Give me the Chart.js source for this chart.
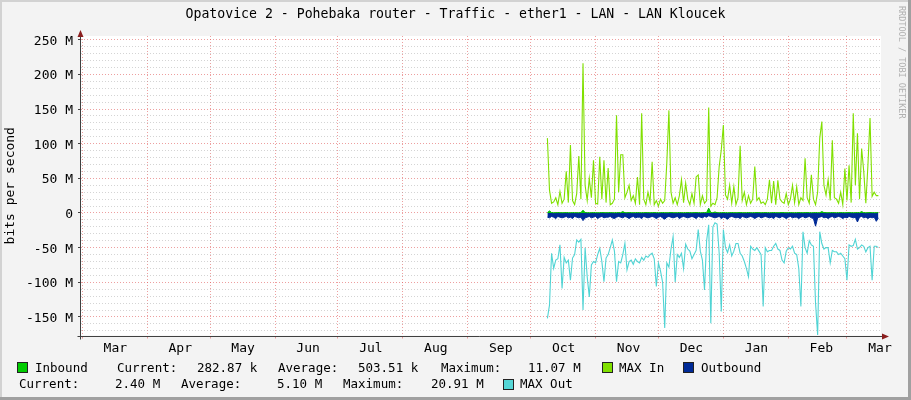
<!DOCTYPE html>
<html>
<head>
<meta charset="utf-8">
<script src="https://cdn.jsdelivr.net/npm/chart.js@4.4.1/dist/chart.umd.min.js"></script>
<style>
  html, body { margin: 0; padding: 0; background: #f3f3f3; }
  #wrap { position: relative; width: 911px; height: 400px; background: #f3f3f3; overflow: hidden;
          font-family: "DejaVu Sans Mono", monospace; color: #000; }
  #wrap canvas { position: absolute; left: 0; top: 0; }
  .t { position: absolute; font-size: 12.5px; line-height: 14px; white-space: pre; }
  .box { position: absolute; width: 9px; height: 9px; border: 1px solid #222; }
  #title { position: absolute; left: 0; width: 911px; top: 6px; text-align: center; font-size: 13.2px; line-height: 16px; }
  #credit { position: absolute; left: 897px; top: 6px; font-size: 8.5px; line-height: 10px; color: #b0b0b0;
            writing-mode: vertical-rl; white-space: pre; }
  .edge { position: absolute; }
</style>
</head>
<body>
<div id="wrap">
  <canvas id="rrd" width="911" height="400"></canvas>
  <div id="title">Opatovice 2 - Pohebaka router - Traffic - ether1 - LAN - LAN Kloucek</div>
  <div id="credit">RRDTOOL / TOBI OETIKER</div>

  <!-- legenda -->
  <div class="box" style="left:17px;top:362px;background:#00cc00"></div>
  <div class="t" style="left:35px;top:361px">Inbound</div>
  <div class="t" style="left:117px;top:361px">Current:</div>
  <div class="t" style="left:197px;top:361px">282.87 k</div>
  <div class="t" style="left:278px;top:361px">Average:</div>
  <div class="t" style="left:358px;top:361px">503.51 k</div>
  <div class="t" style="left:441px;top:361px">Maximum:</div>
  <div class="t" style="left:528px;top:361px">11.07 M</div>
  <div class="box" style="left:602px;top:362px;background:#80e000"></div>
  <div class="t" style="left:619px;top:361px">MAX In</div>
  <div class="box" style="left:683px;top:362px;background:#002a97"></div>
  <div class="t" style="left:701px;top:361px">Outbound</div>

  <div class="t" style="left:19px;top:377px">Current:</div>
  <div class="t" style="left:115px;top:377px">2.40 M</div>
  <div class="t" style="left:181px;top:377px">Average:</div>
  <div class="t" style="left:277px;top:377px">5.10 M</div>
  <div class="t" style="left:343px;top:377px">Maximum:</div>
  <div class="t" style="left:431px;top:377px">20.91 M</div>
  <div class="box" style="left:503px;top:379px;background:#55d6d6"></div>
  <div class="t" style="left:520px;top:377px">MAX Out</div>

  <!-- ramecek -->
  <div class="edge" style="left:0;top:0;width:911px;height:2px;background:#d2d2d2"></div>
  <div class="edge" style="left:0;top:0;width:2px;height:400px;background:#d2d2d2"></div>
  <div class="edge" style="left:908px;top:0;width:3px;height:400px;background:#a0a0a0"></div>
  <div class="edge" style="left:0;top:397px;width:911px;height:3px;background:#a0a0a0"></div>
</div>

<script>
// osa X: dny od 1. brezna
const monthLabels = ['Mar', 'Apr', 'May', 'Jun', 'Jul', 'Aug', 'Sep', 'Oct', 'Nov', 'Dec', 'Jan', 'Feb', 'Mar'];
const monthStarts = [0, 31, 61, 92, 122, 153, 184, 214, 245, 275, 306, 337, 365];

// osa Y (Mbit/s)
const yMajorTicks = [-150, -100, -50, 0, 50, 100, 150, 200, 250];
const yMajorLabels = ['-150 M', '-100 M', '-50 M', '0', '50 M', '100 M', '150 M', '200 M', '250 M'];

// data zacinaji dnem 222 (zacatek rijna), jeden bod za den
const firstDay = 222;

const maxIn = [
  108, 33, 14, 16, 22, 12, 31, 14, 20, 60,
  15, 98, 18, 12, 28, 82, 20, 216, 40, 18,
  50, 22, 76, 14, 13, 81, 20, 76, 15, 65,
  12, 14, 20, 141, 30, 84, 84, 22, 30, 40,
  18, 25, 14, 52, 12, 144, 20, 12, 30, 16,
  74, 12, 18, 10, 20, 14, 18, 72, 148, 30,
  14, 22, 12, 25, 48, 15, 43, 20, 12, 28,
  14, 52, 55, 12, 25, 14, 18, 152, 10, 14,
  12, 22, 67, 91, 127, 26, 20, 40, 14, 38,
  12, 22, 97, 18, 30, 12, 25, 14, 20, 67,
  18, 22, 14, 16, 12, 20, 48, 14, 46, 12,
  47, 20, 16, 14, 28, 12, 20, 40, 15, 38,
  12, 22, 18, 79, 22, 14, 55, 20, 12, 30,
  108, 132, 40, 26, 48, 18, 105, 22, 20, 14,
  30, 12, 64, 18, 69, 15, 144, 40, 115, 20,
  93, 60, 14, 69, 137, 24, 30, 25, 25
];

const maxOut = [
  -152, -133, -58, -80, -68, -66, -46, -109, -64, -72,
  -68, -97, -65, -60, -39, -42, -38, -140, -50, -92,
  -121, -75, -70, -72, -60, -51, -70, -99, -65, -60,
  -50, -39, -55, -99, -70, -72, -60, -44, -82, -70,
  -68, -74, -66, -70, -72, -64, -68, -62, -64, -60,
  -58, -66, -106, -72, -84, -100, -166, -72, -78, -52,
  -34, -100, -60, -64, -58, -80, -45, -52, -55, -66,
  -60, -54, -24, -55, -68, -111, -40, -17, -159, -20,
  -14, -16, -58, -142, -24, -50, -57, -46, -62, -55,
  -44, -44, -58, -62, -70, -80, -92, -48, -52, -54,
  -50, -55, -60, -135, -50, -56, -54, -54, -48, -44,
  -52, -54, -68, -72, -55, -50, -52, -48, -58, -60,
  -80, -135, -27, -50, -58, -40, -46, -48, -130, -176,
  -27, -44, -52, -50, -50, -72, -54, -56, -56, -60,
  -58, -62, -66, -97, -46, -48, -47, -38, -52, -50,
  -46, -48, -56, -50, -48, -97, -48, -48, -50
];

const outbound = [
  -6, -7, -5, -6, -8, -5, -6, -7, -6, -5,
  -7, -6, -8, -5, -6, -7, -6, -11, -7, -6,
  -5, -7, -6, -5, -8, -6, -5, -7, -6, -6,
  -5, -7, -8, -6, -5, -6, -7, -5, -6, -8,
  -6, -5, -7, -6, -6, -8, -5, -6, -7, -6,
  -5, -6, -8, -6, -5, -7, -9, -6, -5, -6,
  -7, -6, -5, -8, -6, -5, -6, -7, -6, -5,
  -6, -8, -5, -6, -7, -5, -6, -4, -5, -6,
  -7, -6, -5, -8, -6, -7, -9, -6, -5, -6,
  -7, -6, -8, -5, -6, -7, -6, -5, -6, -8,
  -6, -5, -7, -6, -5, -6, -7, -6, -8, -5,
  -6, -7, -5, -6, -8, -6, -5, -7, -6, -6,
  -8, -6, -5, -7, -6, -5, -7, -8, -19, -7,
  -6, -5, -7, -6, -8, -6, -5, -7, -6, -5,
  -6, -8, -6, -7, -5, -6, -7, -6, -13, -6,
  -5, -7, -6, -8, -6, -7, -6, -12, -7
];

const inbound = [
  0.5, 3, 0.6, 0.4, 0.5, 0.6, 0.5, 0.4, 0.5, 0.6,
  0.5, 0.4, 0.6, 0.5, 0.5, 0.4, 0.6, 4, 0.6, 0.5,
  0.4, 0.5, 0.6, 0.5, 0.4, 0.5, 0.6, 0.5, 0.4, 0.5,
  0.6, 0.5, 0.4, 0.5, 0.6, 0.5, 2, 0.5, 0.4, 0.6,
  0.5, 0.4, 0.5, 0.6, 0.5, 0.4, 0.5, 0.6, 0.5, 0.4,
  0.5, 0.6, 0.5, 0.4, 0.5, 0.6, 0.5, 0.4, 0.5, 0.6,
  0.5, 0.4, 0.5, 0.6, 0.5, 0.4, 0.5, 0.6, 0.5, 0.4,
  0.5, 0.6, 0.5, 0.4, 0.5, 0.6, 0.5, 7, 0.6, 0.5,
  1.5, 0.5, 0.4, 0.5, 0.6, 0.5, 0.4, 0.5, 0.6, 0.5,
  0.4, 0.5, 0.6, 0.5, 0.4, 0.5, 0.6, 0.5, 0.4, 0.5,
  0.6, 0.5, 0.4, 0.5, 0.6, 0.5, 0.4, 0.5, 0.6, 0.5,
  0.4, 0.5, 0.6, 0.5, 0.4, 0.5, 0.6, 0.5, 0.4, 0.5,
  0.6, 0.5, 0.4, 0.5, 0.6, 0.5, 0.4, 0.5, 0.6, 0.5,
  0.4, 2, 0.6, 0.5, 0.4, 0.5, 0.6, 0.5, 0.4, 0.5,
  0.6, 0.5, 0.4, 0.5, 0.6, 0.5, 0.4, 0.5, 0.6, 0.5,
  2, 0.5, 0.4, 0.5, 0.6, 0.5, 0.4, 0.5, 0.6
];

function toPoints(values) {
  return values.map((v, i) => ({ x: firstDay + i, y: v }));
}

const majorGrid = 'rgba(222, 80, 80, 0.55)';
const minorGrid = 'rgba(160, 160, 160, 0.45)';
const font = { family: '"DejaVu Sans Mono", monospace', size: 13 };

// bile pozadi grafu
const canvasPlugin = {
  id: 'canvasBg',
  beforeDraw(chart) {
    const a = chart.chartArea;
    chart.ctx.save();
    chart.ctx.fillStyle = '#ffffff';
    chart.ctx.fillRect(a.left, a.top, a.right - a.left, a.bottom - a.top);
    chart.ctx.restore();
  }
};

// sipky na konci os
const arrowPlugin = {
  id: 'arrows',
  afterDraw(chart) {
    const c = chart.ctx;
    const a = chart.chartArea;
    const x0 = Math.round(a.left) - 0.5;
    const y0 = Math.round(a.bottom) + 0.5;
    c.save();
    c.strokeStyle = '#404040';
    c.lineWidth = 1;
    c.beginPath();
    c.moveTo(x0, a.top);
    c.lineTo(x0, y0 + 3);
    c.moveTo(x0 - 3, y0);
    c.lineTo(a.right + 1, y0);
    c.stroke();
    c.fillStyle = '#8b1e1e';
    c.beginPath();
    c.moveTo(x0 - 3, a.top + 1);
    c.lineTo(x0 + 3, a.top + 1);
    c.lineTo(x0, a.top - 6);
    c.closePath();
    c.fill();
    c.beginPath();
    c.moveTo(a.right + 1, y0 - 3);
    c.lineTo(a.right + 1, y0 + 3);
    c.lineTo(a.right + 8, y0);
    c.closePath();
    c.fill();
    c.restore();
  }
};

const ctx = document.getElementById('rrd').getContext('2d');
const chart = new Chart(ctx, {
  type: 'line',
  data: {
    datasets: [
      {
        label: 'Inbound',
        data: toPoints(inbound),
        borderColor: '#00b000',
        backgroundColor: '#00cc00',
        borderWidth: 1,
        fill: 'origin'
      },
      {
        label: 'MAX In',
        data: toPoints(maxIn),
        borderColor: '#80e000',
        borderWidth: 1.1,
        fill: false
      },
      {
        label: 'Outbound',
        data: toPoints(outbound),
        borderColor: '#002a97',
        backgroundColor: '#002a97',
        borderWidth: 1,
        fill: 'origin'
      },
      {
        label: 'MAX Out',
        data: toPoints(maxOut),
        borderColor: '#50d4d4',
        borderWidth: 1.1,
        fill: false
      }
    ]
  },
  options: {
    responsive: false,
    animation: false,
    events: [],
    elements: { point: { radius: 0 }, line: { tension: 0 } },
    layout: { padding: { top: 36, right: 30, bottom: 0, left: 0 } },
    plugins: { legend: { display: false }, tooltip: { enabled: false } },
    scales: {
      x: {
        type: 'linear',
        min: -0.62,
        max: 381.24,
        afterFit: s => { s.height = 64.5; },
        afterBuildTicks: s => { s.ticks = monthStarts.map(v => ({ value: v })); },
        ticks: {
          autoSkip: false,
          maxRotation: 0,
          labelOffset: 33,
          padding: 2,
          color: '#000',
          font: font,
          callback: (v, i) => monthLabels[i]
        },
        grid: {
          color: majorGrid,
          tickColor: majorGrid,
          tickLength: 3,
          lineWidth: 1
        },
        border: { display: false, dash: [1, 2] }
      },
      y: {
        min: -176.7,
        max: 255.3,
        afterFit: s => { s.width = 81; },
        afterBuildTicks: s => {
          const t = [];
          for (let v = -170; v <= 250; v += 10) t.push({ value: v });
          s.ticks = t;
        },
        ticks: {
          autoSkip: false,
          padding: 5,
          labelOffset: 1.5,
          color: '#000',
          font: font,
          callback: v => {
            const k = yMajorTicks.indexOf(v);
            return k >= 0 ? yMajorLabels[k] : '';
          }
        },
        grid: {
          color: c => (yMajorTicks.includes(c.tick.value) ? majorGrid : minorGrid),
          tickColor: c => (yMajorTicks.includes(c.tick.value) ? '#404040' : 'rgba(0,0,0,0)'),
          tickLength: 3,
          lineWidth: 1
        },
        border: { display: false, dash: [1, 2] },
        title: {
          display: true,
          text: 'bits per second',
          color: '#000',
          font: font,
          padding: { top: 3, bottom: 0 }
        }
      }
    }
  },
  plugins: [canvasPlugin, arrowPlugin]
});
</script>
</body>
</html>
